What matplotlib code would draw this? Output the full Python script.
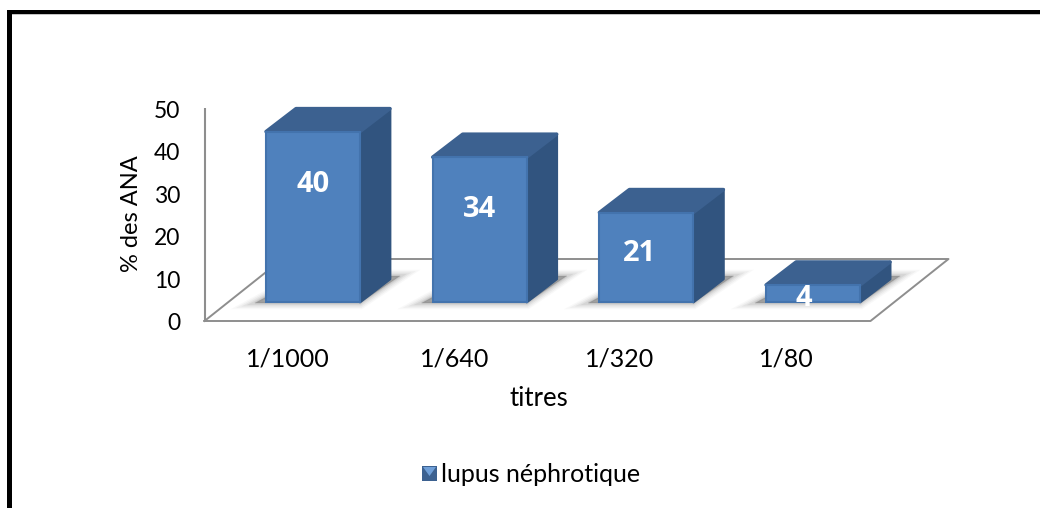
import matplotlib
matplotlib.use("Agg")
import matplotlib.pyplot as plt
from matplotlib.patches import Polygon, Rectangle

categories = ["1/1000", "1/640", "1/320", "1/80"]
values = [40, 34, 21, 4]
y_ticks = [0, 10, 20, 30, 40, 50]
series_name = "lupus néphrotique"
y_label = "% des ANA"
x_label = "titres"

W, H = 1040, 508
px_x = 166.7   # pixels for one category
px_y = 4.26    # pixels for one percent
base_px = 302  # pixel row of the bars' base
first_px = 313 # pixel column of the first bar centre

plt.rcParams["font.family"] = ["Lato", "DejaVu Sans"]
fig = plt.figure(figsize=(W / 100, H / 100), dpi=100)
ax = fig.add_axes([0, 0, 1, 1])
ax.set_xlim(-first_px / px_x, (W - first_px) / px_x)
ax.set_ylim(-(H - base_px) / px_y, base_px / px_y)
ax.axis("off")


def dx(p):
    return p / px_x


def dy(p):
    return p / px_y


def fx(p):
    return p / W


def fy(p):
    return 1 - p / H


# frame, only top and left are visible
fig.add_artist(Rectangle((fx(7), 0), fx(5), fy(10), transform=fig.transFigure, color="black", lw=0))
fig.add_artist(Rectangle((fx(7), fy(14)), 1, 4 / H, transform=fig.transFigure, color="black", lw=0))
fig.add_artist(Rectangle((fx(12), fy(15)), 1, 1 / H, transform=fig.transFigure, color="#c4c4c4", lw=0))

# floor and wall
ax_left = -first_px / px_x
wall_x = ax_left + dx(204.5)
floor_y = dy(-19)
depth_x, depth_y = dx(78), dy(62)
floor_w = dx(666)
line_col = "#8e8e8e"
ax.plot([wall_x, wall_x], [floor_y, floor_y + 50], color=line_col, lw=1.5, zorder=1, solid_capstyle="butt")
ax.plot([wall_x, wall_x + floor_w, wall_x + floor_w + depth_x, wall_x + depth_x, wall_x],
        [floor_y, floor_y, floor_y + depth_y, floor_y + depth_y, floor_y],
        color=line_col, lw=1.4, zorder=1)

# tick labels
for t in y_ticks:
    ax.text(ax_left + dx(180), floor_y + t - dy(3), str(t), ha="right", va="center",
            fontsize=16.5, color="black")
ax.text(ax_left + dx(131), dy(302 - 214), y_label, rotation=90, ha="center", va="center",
        fontsize=17, color="black")
ax.text(ax_left + dx(539), dy(302 - 398), x_label, ha="center", va="center",
        fontsize=18.5, color="black")

label_shift = [0, 0, -0.04, -0.055]
label_drop = [12, 12, 9.3, 2.8]
tick_shift = [-25, -25, -27, -27]

half = dx(47)
bar_dx, bar_dy = dx(30), dy(23)
front_col = "#4f81bd"
for i, (cat, val) in enumerate(zip(categories, values)):
    x0, x1 = i - half, i + half
    # soft shadow on the floor
    for grow, a in [(9, 0.04), (7, 0.06), (5, 0.08), (3, 0.1), (1.5, 0.12), (0, 0.14)]:
        ax.add_patch(Polygon([(x0 - dx(11), dy(-1)), (x1, dy(-1)), (x1 + dx(40), dy(26)),
                              (x1 + dx(28), dy(26)), (x0, dy(5))],
                             closed=True, fc="#606060", ec="#606060", lw=grow, alpha=a, zorder=2))
    # side, top and front of the box
    ax.add_patch(Polygon([(x1, 0), (x1 + bar_dx, bar_dy), (x1 + bar_dx, val + bar_dy), (x1, val)],
                         closed=True, fc="#31547f", ec="#31547f", lw=2, joinstyle="round", zorder=3))
    ax.add_patch(Polygon([(x0, val), (x0 + bar_dx, val + bar_dy), (x1 + bar_dx, val + bar_dy), (x1, val)],
                         closed=True, fc="#3c6190", ec="#3c6190", lw=2.5, joinstyle="round", zorder=3))
    ax.bar(i, val, width=2 * half, color=front_col, edgecolor="#4373ad", linewidth=1.5, zorder=4)
    # data label
    ax.text(i + label_shift[i], val - label_drop[i] - dy(1.5), str(val), ha="center", va="center",
            color="white", fontsize=21, fontweight="bold", family=["Open Sans", "DejaVu Sans"], zorder=5)
    # category label
    ax.text(i + dx(tick_shift[i]), dy(302 - 359), cat, ha="center", va="center",
            fontsize=18, color="black")

# legend
lx0, lx1 = ax_left + dx(422), ax_left + dx(437)
ly0, ly1 = dy(302 - 481), dy(302 - 466)
ax.add_patch(Rectangle((lx0, ly0), lx1 - lx0, ly1 - ly0, fc="#3c6190", ec="none", zorder=3))
ax.add_patch(Polygon([(lx0 + dx(1), ly1 - dy(1)), (lx1 - dx(1), ly1 - dy(1)), ((lx0 + lx1) / 2, ly0 + dy(5))],
                     closed=True, fc="#6f9fd8", ec="none", zorder=4))
ax.text(ax_left + dx(441), dy(302 - 475), series_name, ha="left", va="center",
        fontsize=18, color="black")

fig.savefig("out.png", dpi=100)
